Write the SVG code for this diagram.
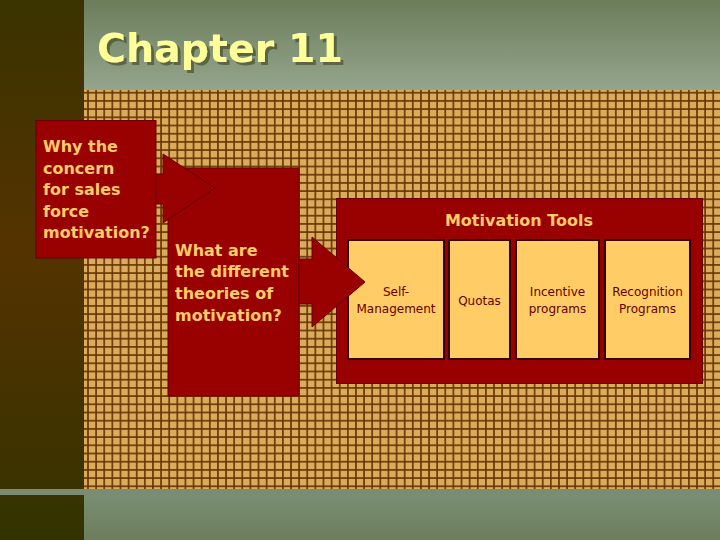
<svg xmlns="http://www.w3.org/2000/svg" width="720" height="540" viewBox="0 0 720 540">
<defs>
<linearGradient id="gLeft" x1="0" y1="0" x2="0" y2="1">
<stop offset="0" stop-color="#3a3300"/>
<stop offset="0.45" stop-color="#553300"/>
<stop offset="0.9" stop-color="#3a3300"/>
<stop offset="1" stop-color="#333300"/>
</linearGradient>
<linearGradient id="gHead" x1="0" y1="0" x2="0" y2="1">
<stop offset="0" stop-color="#6b7d5b"/>
<stop offset="1" stop-color="#94a58c"/>
</linearGradient>
<linearGradient id="gFoot" x1="0" y1="0" x2="0" y2="1">
<stop offset="0" stop-color="#7c9076"/>
<stop offset="1" stop-color="#6b7d5b"/>
</linearGradient>
<pattern id="grid" x="88" y="92.7" width="8.12" height="8.2" patternUnits="userSpaceOnUse">
<rect x="0" y="0" width="8.12" height="8.2" fill="#dbab5c"/>
<rect x="-0.8" y="0" width="1.6" height="8.2" fill="#663300"/>
<rect x="7.32" y="0" width="1.6" height="8.2" fill="#663300"/>
<rect x="0" y="-0.8" width="8.12" height="1.6" fill="#663300"/>
<rect x="0" y="7.4" width="8.12" height="1.6" fill="#663300"/>
</pattern>
<filter id="shadow" x="-10%" y="-20%" width="130%" height="150%">
<feDropShadow dx="3" dy="3" stdDeviation="0.6" flood-color="#3a3a10" flood-opacity="0.55"/>
</filter>
</defs>
<style>
.box{fill:#990000;stroke:#660000;stroke-width:1}
.arrow{fill:#990000;stroke:#660000;stroke-width:1}
.q{font-family:"DejaVu Sans",Verdana,sans-serif;font-weight:bold;font-size:16px;fill:#ffcc66}
.tool{fill:#ffcc66;stroke:#330000;stroke-width:2}
.tt{font-family:"DejaVu Sans",Verdana,sans-serif;font-size:12px;fill:#660000;text-anchor:middle}
</style>
<!-- background -->
<rect x="0" y="0" width="84" height="540" fill="url(#gLeft)"/>
<rect x="84" y="0" width="636" height="90" fill="url(#gHead)"/>
<rect x="84" y="90" width="636" height="399" fill="url(#grid)"/>
<rect x="84" y="489" width="636" height="51" fill="url(#gFoot)"/>
<rect x="0" y="489" width="720" height="6" fill="#7a8d72"/>
<!-- title -->
<g id="title">
<text x="97" y="62" font-family="DejaVu Sans,Verdana,sans-serif" font-weight="bold" font-size="39.5" fill="#ffff99" filter="url(#shadow)">Chapter 11</text>
</g>
<!-- node 2 -->
<g id="theories">
<rect class="box" x="168" y="168" width="131" height="228"/>
<text class="q" x="175" y="256">What are</text>
<text class="q" x="175" y="277">the different</text>
<text class="q" x="175" y="299">theories of</text>
<text class="q" x="175" y="321">motivation?</text>
</g>
<!-- tools container -->
<g id="tools">
<rect class="box" x="336.5" y="198.5" width="366" height="185"/>
<text x="519" y="226" text-anchor="middle" font-family="DejaVu Sans,Verdana,sans-serif" font-weight="bold" font-size="16" fill="#ffcc66">Motivation Tools</text>
<g id="self">
<rect class="tool" x="348" y="240" width="96" height="119"/>
<text class="tt" x="396" y="296">Self-</text>
<text class="tt" x="396" y="313">Management</text>
</g>
<g id="quotas">
<rect class="tool" x="449" y="240" width="61" height="119"/>
<text class="tt" x="479.5" y="305">Quotas</text>
</g>
<g id="incentive">
<rect class="tool" x="516" y="240" width="83" height="119"/>
<text class="tt" x="557.5" y="296">Incentive</text>
<text class="tt" x="557.5" y="313">programs</text>
</g>
<g id="recognition">
<rect class="tool" x="605" y="240" width="85" height="119"/>
<text class="tt" x="647.5" y="296">Recognition</text>
<text class="tt" x="647.5" y="313">Programs</text>
</g>
</g>
<!-- connectors -->
<g id="connectors">
<polygon class="arrow" points="148,174 163,174 163,154 215,188 163,223 163,204 148,204"/>
<polygon class="arrow" points="299,259 312,259 312,237 365,282 312,327 312,304 299,304"/>
</g>
<!-- node 1 -->
<g id="why">
<rect class="box" x="36" y="120.5" width="120" height="137.5"/>
<text class="q" x="43" y="152">Why the</text>
<text class="q" x="43" y="174">concern</text>
<text class="q" x="43" y="195">for sales</text>
<text class="q" x="43" y="217">force</text>
<text class="q" x="43" y="238">motivation?</text>
</g>
</svg>
